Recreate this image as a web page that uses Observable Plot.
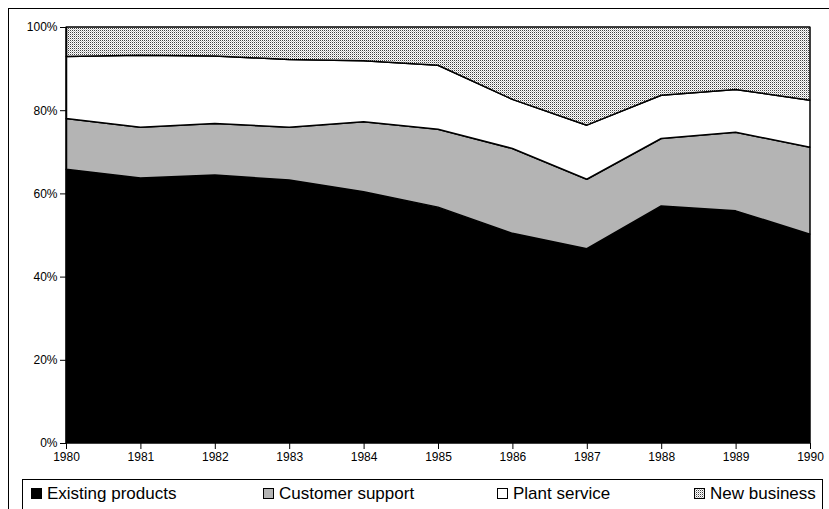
<!DOCTYPE html>
<html><head><meta charset="utf-8">
<script src="https://cdn.jsdelivr.net/npm/d3@7"></script>
<script src="https://cdn.jsdelivr.net/npm/@observablehq/plot@0.6"></script>
<style>
html,body{margin:0;padding:0;background:#fff;}
body{width:829px;height:509px;overflow:hidden;position:relative;font-family:"Liberation Sans",Arial,sans-serif;}
#frame{position:absolute;left:8px;top:8px;width:900px;height:600px;border:1px solid #000;box-sizing:border-box;}
#chart{position:absolute;left:0;top:0;}
#legend{position:absolute;left:22px;top:479px;width:801px;height:40px;border:1px solid #000;box-sizing:border-box;background:#fff;}
.item{position:absolute;top:2px;display:flex;align-items:center;height:24px;font-size:17px;color:#000;white-space:nowrap;}
.item svg{margin-right:4px;}
</style></head>
<body>
<div id="frame"></div>
<div id="chart"></div>
<div id="legend"></div>
<script>
const years = [1980, 1981, 1982, 1983, 1984, 1985, 1986, 1987, 1988, 1989, 1990];
const existingProducts = [65.8, 63.7, 64.4, 63.2, 60.4, 56.7, 50.4, 46.7, 57.0, 55.8, 50.2];
const customerSupport  = [12.2, 12.2, 12.4, 12.7, 16.8, 18.7, 20.4, 16.7, 16.2, 18.9, 20.9];
const plantService     = [14.9, 17.3, 16.2, 16.3, 14.7, 15.4, 11.8, 13.0, 10.4, 10.3, 11.3];
const newBusiness      = [7.1, 6.8, 7.0, 7.8, 8.1, 9.2, 17.4, 23.6, 16.4, 15.0, 17.6];
const seriesNames = ["Existing products", "Customer support", "Plant service", "New business"];
const seriesFills = ["#000000", "#b4b4b4", "#ffffff", "url(#nbPattern)"];
const yTicks = [0, 20, 40, 60, 80, 100];

const seriesValues = [existingProducts, customerSupport, plantService, newBusiness];
const data = [];
seriesNames.forEach((s, i) => years.forEach((yr, j) => data.push({year: yr, series: s, value: seriesValues[i][j]})));

const plot = Plot.plot({
  width: 829,
  height: 470,
  marginLeft: 66,
  marginRight: 19,
  marginTop: 27,
  marginBottom: 27,
  style: {fontFamily: "'Liberation Sans', Arial, sans-serif", fontSize: "12px", color: "#000", background: "transparent", overflow: "visible"},
  x: {type: "linear", domain: [1980, 1990], ticks: years, tickFormat: d => String(d), label: null, tickSize: 6, tickPadding: 3},
  y: {domain: [0, 100], ticks: yTicks, tickFormat: d => d + "%", label: null, tickSize: 6, tickPadding: 3},
  color: {type: "ordinal", domain: seriesNames, range: seriesFills},
  marks: [
    Plot.areaY(data, {x: "year", y: "value", z: "series", fill: "series", stroke: "#000", strokeWidth: 1.5, strokeLinejoin: "miter", order: seriesNames}),
    Plot.ruleX([1980], {stroke: "#000", strokeWidth: 1.5})
  ]
});

function addPattern(svgSel) {
  const defs = svgSel.insert("defs", ":first-child");
  const p = defs.append("pattern").attr("id", "nbPattern").attr("patternUnits", "userSpaceOnUse")
    .attr("width", 2).attr("height", 2);
  p.append("rect").attr("width", 2).attr("height", 2).attr("fill", "#ffffff");
  p.append("rect").attr("x", 0).attr("y", 0).attr("width", 1).attr("height", 1).attr("fill", "#404040");
  p.append("rect").attr("x", 1).attr("y", 1).attr("width", 1).attr("height", 1).attr("fill", "#c0c0c0");
}
addPattern(d3.select(plot));
document.getElementById("chart").appendChild(plot);

// Legend
const legendX = [8, 240, 474, 671];
const legend = document.getElementById("legend");
seriesNames.forEach((s, i) => {
  const div = document.createElement("div");
  div.className = "item";
  div.style.left = legendX[i] + "px";
  const sw = d3.create("svg").attr("width", 12).attr("height", 12);
  if (i === 3) addPattern(sw);
  sw.append("rect").attr("x", 0.5).attr("y", 0.5).attr("width", 10).attr("height", 10)
    .attr("fill", seriesFills[i]).attr("stroke", "#000").attr("stroke-width", 1);
  div.appendChild(sw.node());
  const t = document.createElement("span");
  t.textContent = s;
  div.appendChild(t);
  legend.appendChild(div);
});
</script>
</body></html>
